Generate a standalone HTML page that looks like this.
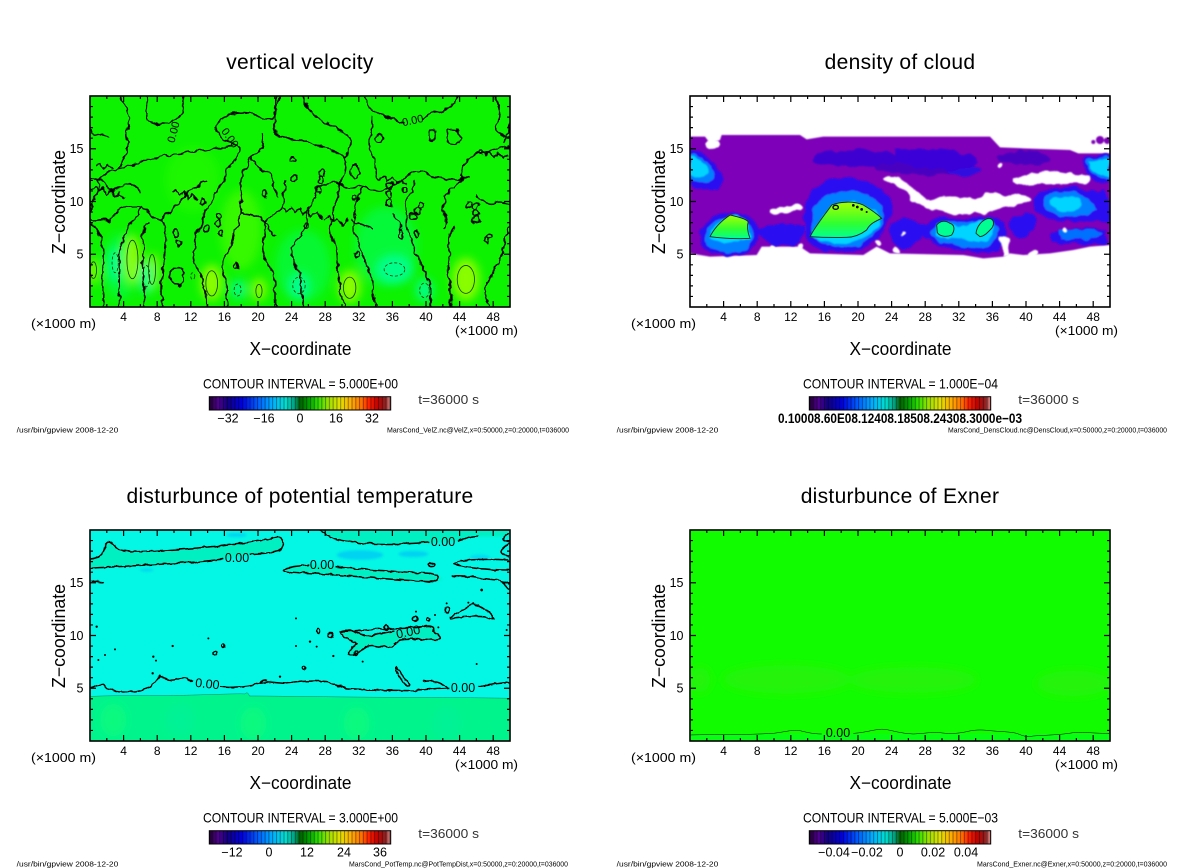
<!DOCTYPE html>
<html><head><meta charset="utf-8"><style>
html,body{margin:0;padding:0;background:#fff;}
svg{display:block;}
text{font-family:"Liberation Sans",sans-serif;fill:#000;}
.ns *{vector-effect:non-scaling-stroke;}
</style></head><body>
<svg width="1200" height="868" viewBox="0 0 1200 868" xmlns="http://www.w3.org/2000/svg">
<defs>
<clipPath id="cTL"><rect x="90" y="96" width="420" height="211"/></clipPath>
<clipPath id="cTR"><rect x="690" y="96" width="420" height="211"/></clipPath>
<clipPath id="cBL"><rect x="90" y="530" width="420" height="211"/></clipPath>
<clipPath id="cBR"><rect x="690" y="530" width="420" height="211"/></clipPath>
<filter id="b1" x="-50%" y="-50%" width="200%" height="200%"><feGaussianBlur stdDeviation="14"/></filter>
<filter id="b2" x="-20%" y="-20%" width="140%" height="140%"><feGaussianBlur stdDeviation="4"/></filter>
<filter id="b3" x="-20%" y="-20%" width="140%" height="140%"><feGaussianBlur stdDeviation="2"/></filter>
<filter id="wig" x="-5%" y="-5%" width="110%" height="110%"><feTurbulence type="fractalNoise" baseFrequency="0.045" numOctaves="2" seed="3" result="n"/><feDisplacementMap in="SourceGraphic" in2="n" scale="18" xChannelSelector="R" yChannelSelector="G"/></filter>
<filter id="wig2" x="-5%" y="-5%" width="110%" height="110%"><feTurbulence type="fractalNoise" baseFrequency="0.05" numOctaves="2" seed="7" result="n"/><feDisplacementMap in="SourceGraphic" in2="n" scale="10" xChannelSelector="R" yChannelSelector="G"/></filter>
<filter id="wig3" x="-10%" y="-10%" width="120%" height="120%"><feTurbulence type="fractalNoise" baseFrequency="0.03" numOctaves="2" seed="5" result="n"/><feDisplacementMap in="SourceGraphic" in2="n" scale="22" xChannelSelector="R" yChannelSelector="G" result="d"/><feGaussianBlur in="d" stdDeviation="2.5"/></filter>
<linearGradient id="cb" x1="0" x2="1" y1="0" y2="0">
<stop offset="0" stop-color="#200030"/><stop offset="0.05" stop-color="#500090"/><stop offset="0.1" stop-color="#120080"/>
<stop offset="0.18" stop-color="#0000e0"/><stop offset="0.27" stop-color="#0060ff"/><stop offset="0.35" stop-color="#00b0ff"/>
<stop offset="0.42" stop-color="#00e0d0"/><stop offset="0.47" stop-color="#00a080"/><stop offset="0.5" stop-color="#006000"/>
<stop offset="0.55" stop-color="#00a000"/><stop offset="0.6" stop-color="#30e000"/><stop offset="0.66" stop-color="#a0e000"/>
<stop offset="0.72" stop-color="#e0e000"/><stop offset="0.78" stop-color="#ffb000"/><stop offset="0.84" stop-color="#ff7000"/>
<stop offset="0.88" stop-color="#ff2000"/><stop offset="0.93" stop-color="#c00000"/><stop offset="0.97" stop-color="#902020"/>
<stop offset="1" stop-color="#e09090"/></linearGradient>
<pattern id="st" patternUnits="userSpaceOnUse" width="3.78" height="20"><rect x="0" y="0" width="1" height="20" fill="#000" fill-opacity="0.4"/></pattern>
<linearGradient id="gc" x1="0" x2="0" y1="0" y2="1"><stop offset="0" stop-color="#a8ff00"/><stop offset="0.6" stop-color="#30ff30"/><stop offset="1" stop-color="#00ff90"/></linearGradient>
<g id="ax">
<rect x="0" y="0" width="420" height="211" fill="none" stroke="#000" stroke-width="1.6"/>
<path fill="none" stroke="#000" stroke-width="1.2" d="M33.6 211v-6M67.2 211v-6M100.8 211v-6M134.4 211v-6M168 211v-6M201.6 211v-6M235.2 211v-6M268.8 211v-6M302.4 211v-6M336 211v-6M369.6 211v-6M403.2 211v-6
M16.8 211v-3M50.4 211v-3M84 211v-3M117.6 211v-3M151.2 211v-3M184.8 211v-3M218.4 211v-3M252 211v-3M285.6 211v-3M319.2 211v-3M352.8 211v-3M386.4 211v-3
M33.6 0v6M67.2 0v6M100.8 0v6M134.4 0v6M168 0v6M201.6 0v6M235.2 0v6M268.8 0v6M302.4 0v6M336 0v6M369.6 0v6M403.2 0v6
M16.8 0v3M50.4 0v3M84 0v3M117.6 0v3M151.2 0v3M184.8 0v3M218.4 0v3M252 0v3M285.6 0v3M319.2 0v3M352.8 0v3M386.4 0v3
M0 200.45h3M0 189.9h3M0 179.35h3M0 168.8h3M0 147.7h3M0 137.15h3M0 126.6h3M0 116.05h3M0 94.95h3M0 84.4h3M0 73.85h3M0 63.3h3M0 42.2h3M0 31.65h3M0 21.1h3M0 10.55h3
M0 158.25h6M0 105.5h6M0 52.75h6
M420 200.45h-3M420 189.9h-3M420 179.35h-3M420 168.8h-3M420 147.7h-3M420 137.15h-3M420 126.6h-3M420 116.05h-3M420 94.95h-3M420 84.4h-3M420 73.85h-3M420 63.3h-3M420 42.2h-3M420 31.65h-3M420 21.1h-3M420 10.55h-3
M420 158.25h-6M420 105.5h-6M420 52.75h-6"/>
</g>
</defs>
<rect width="1200" height="868" fill="#fff"/>

<!-- ===================== TOP LEFT: vertical velocity ===================== -->
<g clip-path="url(#cTL)">
<rect x="90" y="96" width="420" height="211" fill="#0cf200"/>
<g transform="matrix(0.34483,0,0,0.33228,-0.345,80.05)">
<g filter="url(#b1)">
<ellipse cx="700" cy="450" rx="60" ry="120" fill="#60ff00" fill-opacity="0.5"/>
<ellipse cx="560" cy="300" rx="80" ry="100" fill="#40ff00" fill-opacity="0.35"/>
<ellipse cx="1120" cy="500" rx="90" ry="120" fill="#00ff70" fill-opacity="0.5"/>
<ellipse cx="880" cy="560" rx="80" ry="110" fill="#00ff70" fill-opacity="0.45"/>
<ellipse cx="350" cy="560" rx="50" ry="100" fill="#00ff70" fill-opacity="0.45"/>
<ellipse cx="385" cy="540" rx="25" ry="75" fill="#a0ff00" fill-opacity="0.85"/>
<ellipse cx="445" cy="575" rx="18" ry="55" fill="#a0ff00" fill-opacity="0.8"/>
<ellipse cx="615" cy="610" rx="32" ry="55" fill="#a0ff00" fill-opacity="0.85"/>
<ellipse cx="752" cy="630" rx="22" ry="35" fill="#a0ff00" fill-opacity="0.8"/>
<ellipse cx="1015" cy="622" rx="32" ry="50" fill="#a0ff00" fill-opacity="0.85"/>
<ellipse cx="1352" cy="600" rx="40" ry="65" fill="#a0ff00" fill-opacity="0.85"/>
<ellipse cx="272" cy="575" rx="15" ry="40" fill="#a0ff00" fill-opacity="0.8"/>
<ellipse cx="335" cy="555" rx="20" ry="55" fill="#00ff9a" fill-opacity="0.85"/>
<ellipse cx="425" cy="595" rx="20" ry="50" fill="#00ff9a" fill-opacity="0.85"/>
<ellipse cx="692" cy="630" rx="22" ry="30" fill="#00ff9a" fill-opacity="0.85"/>
<ellipse cx="868" cy="620" rx="32" ry="40" fill="#00ff9a" fill-opacity="0.85"/>
<ellipse cx="1145" cy="570" rx="55" ry="45" fill="#00ff9a" fill-opacity="0.85"/>
<ellipse cx="1232" cy="632" rx="25" ry="35" fill="#00ff9a" fill-opacity="0.85"/>
</g>
<g class="ns" fill="none" stroke="#1a3a00" stroke-width="0.8">
<ellipse cx="385" cy="540" rx="16" ry="58"/><ellipse cx="442" cy="570" rx="10" ry="45"/><ellipse cx="615" cy="612" rx="17" ry="38"/>
<ellipse cx="752" cy="635" rx="9" ry="20"/><ellipse cx="1015" cy="625" rx="18" ry="32"/><ellipse cx="1352" cy="600" rx="25" ry="42"/><ellipse cx="272" cy="572" rx="9" ry="25"/>
<g stroke-dasharray="3 2"><ellipse cx="335" cy="550" rx="9" ry="30"/><ellipse cx="425" cy="590" rx="10" ry="32"/><ellipse cx="690" cy="632" rx="10" ry="18"/>
<ellipse cx="868" cy="618" rx="18" ry="25"/><ellipse cx="1145" cy="570" rx="30" ry="20"/><ellipse cx="1232" cy="633" rx="14" ry="22"/><ellipse cx="560" cy="590" rx="6" ry="10"/></g>
</g>
<g class="ns" fill="none" stroke="#000" stroke-width="1.5" stroke-linejoin="round" filter="url(#wig)">
<path d="M352,48 C356,80 385,100 372,140 C360,175 385,200 360,235 C350,255 352,262 345,268 C330,280 310,275 295,290 C280,305 295,330 275,350 C265,365 270,385 262,400"/>
<path d="M430,48 C428,80 418,105 440,128 C465,140 500,128 522,108 C540,90 528,65 532,48"/>
<path d="M345,268 C390,250 420,240 460,232 C500,225 560,214 610,208 C640,205 670,198 690,193 C700,215 690,240 668,258 C650,275 660,300 640,318 C620,335 625,360 605,380 C585,400 598,430 578,450 C565,470 572,500 560,520 C570,560 590,600 598,640 C600,660 598,675 600,683"/>
<path d="M632,130 C650,105 680,98 700,100 C720,95 745,110 770,118 C790,125 800,110 810,48"/>
<path d="M632,130 C620,160 640,185 690,193"/>
<path d="M800,48 C805,90 790,130 800,160 C820,175 860,180 900,190 C940,200 975,215 1000,235 C1010,260 1000,285 990,300 C975,320 990,345 975,365 C960,385 975,410 960,430 C950,455 965,480 975,500 C985,540 975,580 985,620 C990,650 1000,670 1000,683"/>
<path d="M880,48 C885,80 900,100 930,120 C960,140 990,150 1010,170 C1030,190 1005,215 1000,235"/>
<path d="M1060,48 C1065,75 1080,100 1110,105 C1140,110 1160,130 1175,128 M1228,115 C1245,100 1260,97 1275,95 C1300,90 1320,70 1330,48"/>
<path d="M1080,110 C1090,140 1060,180 1080,220 C1100,250 1080,280 1100,300"/>
<path d="M1300,150 C1320,140 1345,160 1335,190 C1315,205 1290,185 1300,150 Z"/>
<path d="M1440,48 C1445,80 1460,100 1440,130 C1425,150 1450,165 1480,170"/>
<path d="M1480,195 C1460,210 1440,200 1420,215 C1400,225 1390,210 1370,230 C1350,250 1330,270 1340,300 C1320,320 1300,330 1290,360 C1280,390 1300,420 1290,450"/>
<path d="M262,420 C280,430 300,410 320,425 C330,400 350,395 365,380 C380,390 400,375 420,390 C440,400 455,430 470,420 C480,440 490,470 480,500 C470,530 480,560 470,600 C465,640 470,660 470,683"/>
<path d="M300,683 C295,650 305,620 300,590 C295,560 310,530 300,500 C295,470 280,440 262,430"/>
<path d="M345,683 C350,650 340,620 345,590 C350,560 340,520 355,490 C365,460 370,440 390,420 C400,405 410,395 412,380"/>
<path d="M420,683 C415,650 425,620 415,590 C408,560 425,520 415,490 C410,470 420,440 430,425"/>
<path d="M660,683 C655,650 665,620 650,590 C640,560 655,530 670,500 C680,470 690,440 700,400 C705,360 690,330 700,300 C710,270 720,250 730,230"/>
<path d="M730,230 C760,215 770,190 760,160 M730,230 C740,260 760,270 780,280 C800,300 790,330 810,350"/>
<path d="M800,683 C795,650 805,610 790,580 C775,550 760,520 765,490 C770,460 760,440 775,420 C790,400 810,405 820,380 C830,350 820,320 830,300"/>
<path d="M880,683 C870,640 880,610 870,580 C860,550 840,530 850,500 C860,480 880,460 890,440 C900,420 880,400 900,380 C920,360 910,330 930,320"/>
<path d="M1090,683 C1085,640 1080,610 1070,580 C1060,550 1055,520 1040,490 C1030,470 1020,450 1030,430 C1040,410 1020,390 1035,370 C1050,350 1040,330 1060,320"/>
<path d="M1250,683 C1245,650 1255,620 1240,590 C1225,560 1210,530 1200,500 C1190,470 1175,450 1180,420 C1185,400 1170,380 1180,360 C1190,340 1210,330 1200,300"/>
<path d="M1310,683 C1305,650 1315,620 1300,590 C1290,560 1310,530 1300,500 C1295,480 1310,460 1320,440"/>
<path d="M1420,683 C1410,650 1400,630 1420,600 C1440,570 1450,540 1460,510 C1470,490 1465,460 1480,440"/>
<path d="M470,420 C490,400 500,380 520,370 C540,360 530,340 550,330 C570,325 580,310 600,300"/>
<path d="M700,400 C720,410 740,400 760,420 C780,440 790,460 800,470"/>
<path d="M930,320 C950,310 980,300 1000,320 C1020,330 1040,320 1060,320 C1080,330 1100,340 1120,330 C1140,320 1160,310 1180,290 C1200,280 1220,270 1240,280 C1260,300 1280,290 1300,300 C1320,305 1340,300 1360,290"/>
<path d="M1380,350 C1400,360 1420,380 1440,370 C1460,360 1470,380 1480,370"/>
<path d="M262,300 C280,290 300,300 310,320 C320,340 340,330 360,320 C380,300 400,320 410,340"/>
<path d="M262,330 L275,320 L285,335 L300,325 L310,345 L325,330 L335,350 L350,340 L360,360"/>
<path d="M500,340 L510,330 L520,345 L535,335 L545,355 L560,345 L575,360"/>
<path d="M820,380 L830,395 L845,380 L855,400 L870,385 L880,405 L895,390 L905,410 L920,395 L935,420"/>
<path d="M940,420 L955,405 L965,430 L980,415 L995,440 L1010,420"/>
<path d="M1100,300 L1115,290 L1125,305 L1140,295 L1150,310 L1165,300 L1180,315"/>
<path d="M1380,220 L1395,210 L1405,225 L1420,215 L1430,230 L1445,220 L1460,235 L1475,225"/>
<path d="M275,260 L290,250 L300,265 L315,255 L330,270"/>
<path d="M1480,130 C1470,150 1475,170 1460,190 M262,150 C280,170 300,160 320,175"/>
<path d="M1020,420 C1040,440 1060,430 1080,450 M1140,400 C1150,420 1170,430 1160,450"/>
<ellipse cx="510" cy="460" rx="10" ry="12"/><ellipse cx="520" cy="490" rx="8" ry="10"/><ellipse cx="590" cy="370" rx="7" ry="10"/>
<ellipse cx="600" cy="445" rx="7" ry="10"/><ellipse cx="635" cy="410" rx="7" ry="9"/><ellipse cx="635" cy="432" rx="7" ry="9"/>
<ellipse cx="850" cy="240" rx="10" ry="6"/><ellipse cx="855" cy="295" rx="7" ry="10"/><ellipse cx="935" cy="280" rx="8" ry="10"/>
<ellipse cx="930" cy="302" rx="8" ry="10"/><ellipse cx="925" cy="330" rx="8" ry="10"/><ellipse cx="1030" cy="275" rx="12" ry="20"/>
<ellipse cx="1130" cy="320" rx="9" ry="10"/><ellipse cx="1130" cy="345" rx="9" ry="10"/><ellipse cx="1130" cy="370" rx="9" ry="10"/>
<ellipse cx="1200" cy="410" rx="10" ry="9"/><ellipse cx="1212" cy="392" rx="10" ry="9"/><ellipse cx="1222" cy="378" rx="10" ry="9"/>
<ellipse cx="1382" cy="380" rx="10" ry="9"/><ellipse cx="1382" cy="400" rx="10" ry="9"/><ellipse cx="1382" cy="420" rx="10" ry="9"/>
<ellipse cx="1100" cy="175" rx="12" ry="12"/><ellipse cx="1255" cy="165" rx="12" ry="15"/><ellipse cx="1165" cy="465" rx="6" ry="15"/>
<ellipse cx="1210" cy="465" rx="6" ry="12"/><ellipse cx="1360" cy="375" rx="8" ry="8"/><ellipse cx="515" cy="590" rx="20" ry="28"/>
<ellipse cx="685" cy="560" rx="5" ry="8"/><ellipse cx="1035" cy="525" rx="6" ry="8"/><ellipse cx="1410" cy="480" rx="6" ry="8"/>
<ellipse cx="890" cy="440" rx="7" ry="9"/><ellipse cx="770" cy="345" rx="8" ry="10"/><ellipse cx="640" cy="460" rx="6" ry="8"/>
<ellipse cx="1175" cy="330" rx="7" ry="9"/><ellipse cx="1030" cy="355" rx="7" ry="8"/><ellipse cx="1420" cy="470" rx="8" ry="6"/>
</g>
</g>
<text x="177" y="133" font-size="11" transform="rotate(-75 177 133)" text-anchor="middle">0.00</text>
<text x="227" y="140" font-size="11" transform="rotate(55 227 140)" text-anchor="middle">0.00</text>
<text x="413.5" y="124" font-size="11" transform="rotate(-12 413.5 124)" text-anchor="middle">0.00</text>
</g>
<use href="#ax" x="90" y="96"/>

<!-- ===================== TOP RIGHT: density of cloud ===================== -->
<g clip-path="url(#cTR)">
<rect x="690" y="96" width="420" height="211" fill="#fff"/>
<g transform="translate(690,90) scale(0.33333)">
<g filter="url(#b3)">
<path fill="#7e00b8" d="M0,140 L45,140 L60,160 L90,150 L95,135 L330,135 L350,148 L400,140 L900,140 L930,172 L1000,175 L1140,180 L1165,190 L1260,190 L1260,465 L1200,470 L1150,480 L1080,490 L1000,495 L960,490 L940,500 L880,505 L820,495 L600,490 L560,470 L520,495 L360,490 L330,470 L215,470 L200,495 L60,500 L30,495 L0,490 Z"/>
<circle cx="1230" cy="150" r="12" fill="#7e00b8"/><circle cx="1252" cy="152" r="10" fill="#7e00b8"/><circle cx="1210" cy="156" r="6" fill="#7e00b8"/>
</g>
<g filter="url(#wig3)">
<ellipse cx="700" cy="225" rx="150" ry="30" fill="#4a00c0"/>
<ellipse cx="1000" cy="205" rx="80" ry="20" fill="#4a00c0"/>
<ellipse cx="500" cy="205" rx="130" ry="25" fill="#3c00d0"/>
<ellipse cx="820" cy="240" rx="50" ry="18" fill="#3010e0"/>
<path fill="#3a00d8" d="M620,180 C700,175 780,180 860,200 C880,215 860,235 800,240 C720,240 650,230 620,210 Z"/>
<path fill="#2a10f0" d="M200,420 C240,400 300,395 340,410 C350,440 330,465 290,468 C250,470 215,455 200,420 Z"/>
<path fill="#2a10f0" d="M600,400 C630,380 680,385 700,410 C700,440 680,470 640,475 C610,470 595,440 600,400 Z"/>
<path fill="#2a10f0" d="M0,180 C40,185 70,210 90,240 C110,265 100,290 70,300 C40,305 20,290 0,285 Z"/>
<path fill="#2a10f0" d="M350,330 C360,290 400,265 460,262 C520,265 570,290 600,320 C620,350 600,390 580,420 C560,450 530,480 480,488 C430,490 380,480 355,455 C340,420 340,370 350,330 Z"/>
<path fill="#2a10f0" d="M30,430 C40,390 80,370 130,368 C180,372 210,400 205,440 C200,470 180,490 140,495 C90,497 50,490 35,470 Z"/>
<path fill="#2a10f0" d="M690,410 C720,385 770,375 820,390 C860,375 910,370 940,400 C955,430 945,470 910,485 C860,490 800,480 740,465 C700,450 685,430 690,410 Z"/>
<path fill="#2a10f0" d="M1030,330 C1050,300 1100,285 1160,292 C1200,300 1220,310 1240,300 C1260,305 1260,390 1260,395 C1220,390 1180,395 1140,395 C1090,395 1050,380 1035,360 Z"/>
<path fill="#2a10f0" d="M1180,205 C1200,195 1240,192 1260,198 L1260,275 C1230,280 1200,270 1185,245 Z"/>
<path fill="#2a10f0" d="M960,400 C980,370 1020,360 1040,390 C1045,420 1020,445 985,440 C965,430 958,415 960,400 Z"/>
<path fill="#2a10f0" d="M1080,430 C1120,410 1200,415 1250,420 L1250,460 C1200,465 1120,460 1085,455 Z"/>
<path fill="#0080ff" d="M0,195 C30,195 55,215 70,245 C80,270 60,285 30,280 C15,275 5,265 0,260 Z"/>
<path fill="#0080ff" d="M370,360 C390,320 440,300 500,305 C550,315 580,345 585,380 C575,420 540,455 500,470 C450,478 400,470 375,445 C365,420 365,390 370,360 Z"/>
<path fill="#0080ff" d="M45,435 C55,400 90,385 130,383 C170,388 195,410 190,445 C185,470 160,485 120,487 C80,487 55,475 45,455 Z"/>
<path fill="#0080ff" d="M720,420 C740,395 780,385 820,400 C860,390 900,385 925,410 C930,440 915,465 880,475 C840,475 790,465 750,455 C725,445 715,435 720,420 Z"/>
<path fill="#0080ff" d="M1060,330 C1080,305 1120,300 1160,310 C1190,320 1210,340 1220,360 C1200,380 1150,385 1110,380 C1080,370 1060,355 1060,330 Z"/>
<path fill="#0080ff" d="M1190,210 C1210,200 1240,200 1258,205 L1258,265 C1230,268 1205,255 1195,235 Z"/>
<path fill="#0070ff" d="M1100,420 C1140,415 1200,420 1240,428 C1230,448 1150,450 1110,445 Z"/>
<path fill="#00d4ff" d="M0,200 C20,200 40,215 50,235 C55,255 40,262 20,258 L0,250 Z"/>
<path fill="#00d4ff" d="M365,440 C380,400 420,345 480,333 C530,340 570,370 575,390 C560,420 530,450 480,460 C430,462 385,455 365,440 Z"/>
<path fill="#00d4ff" d="M55,445 C70,410 100,380 140,378 C175,390 185,420 180,450 C150,460 100,460 55,445 Z"/>
<path fill="#00d4ff" d="M735,410 C750,395 780,395 800,410 C820,420 840,400 870,390 C900,385 915,400 910,430 C900,450 880,460 860,455 C820,450 770,448 740,440 Z"/>
<path fill="#00d4ff" d="M1200,215 C1220,205 1245,205 1258,210 L1258,258 C1235,260 1210,250 1200,235 Z"/>
<path fill="#00d4ff" d="M1080,330 C1100,315 1140,315 1170,330 C1180,345 1160,365 1120,365 C1090,360 1075,345 1080,330 Z"/>
</g>
<g filter="url(#b3)">
<path fill="url(#gc)" d="M60,440 C70,420 90,395 120,375 C140,380 165,385 175,395 C170,410 172,425 180,445 C150,447 100,445 60,440 Z"/>
<path fill="url(#gc)" d="M360,440 C375,410 400,380 425,345 C450,335 490,332 520,345 C545,360 565,375 575,385 C555,395 540,400 530,420 C510,435 490,442 470,442 C430,443 390,442 360,440 Z"/>
<path fill="#00ff90" d="M740,405 C750,392 765,390 780,400 C795,405 795,420 785,435 C770,442 750,440 742,428 Z"/>
<path fill="#00ff90" d="M858,430 C860,410 875,390 895,385 C912,385 915,400 905,415 C895,425 885,438 870,440 Z"/>
</g>
<g class="ns" fill="none" stroke="#062a20" stroke-width="0.9">
<path d="M60,440 C70,420 90,395 120,375 C140,380 165,385 175,395 C170,410 172,425 180,445 C150,447 100,445 60,440 Z"/>
<path d="M360,440 C375,410 400,380 425,345 C450,335 490,332 520,345 C545,360 565,375 575,385 C555,395 540,400 530,420 C510,435 490,442 470,442 C430,443 390,442 360,440 Z"/>
<path d="M740,405 C750,392 765,390 780,400 C795,405 795,420 785,435 C770,442 750,440 742,428 Z"/>
<path d="M858,430 C860,410 875,390 895,385 C912,385 915,400 905,415 C895,425 885,438 870,440 Z"/>
</g>
<g class="ns" fill="none" stroke="#000" stroke-width="1.4"><ellipse cx="437" cy="352" rx="8" ry="6"/></g>
<g fill="#000"><circle cx="490" cy="346" r="4"/><circle cx="502" cy="351" r="4"/><circle cx="515" cy="358" r="4"/><circle cx="530" cy="366" r="3"/></g>
<g fill="#fff" filter="url(#wig3)">
<path d="M580,265 C600,255 620,260 640,270 C660,285 670,300 700,320 C720,335 760,320 800,322 C840,325 870,330 890,310 C905,300 930,310 950,320 C975,310 1000,305 1020,320 C1030,335 1000,340 970,345 C930,355 900,368 860,370 C820,372 780,372 740,362 C700,352 670,345 660,330 C650,310 640,295 620,285 C600,280 585,275 580,265 Z"/>
<path d="M970,262 C1000,255 1040,250 1060,240 C1080,235 1100,245 1130,250 C1160,255 1190,255 1200,262 C1205,272 1195,280 1170,280 C1130,280 1080,282 1040,285 C1010,288 980,290 970,280 Z"/>
<path d="M240,360 C270,350 300,345 330,345 C345,350 340,362 320,365 C290,370 260,372 240,368 Z"/>
<ellipse cx="68" cy="163" rx="22" ry="14"/>
<circle cx="928" cy="225" r="8"/><circle cx="565" cy="458" r="10"/><circle cx="640" cy="432" r="6"/><circle cx="1125" cy="420" r="8"/>
<path d="M930,440 L955,445 L960,495 L940,498 Z"/>
<circle cx="250" cy="472" r="10"/><circle cx="330" cy="468" r="8"/><circle cx="620" cy="482" r="8"/><circle cx="1030" cy="490" r="10"/>
</g>
</g>
</g>
<use href="#ax" x="690" y="96"/>

<!-- ===================== BOTTOM LEFT: potential temperature ===================== -->
<g clip-path="url(#cBL)">
<rect x="90" y="530" width="420" height="211" fill="#04f6e4"/>
<g transform="translate(80,520) scale(0.33333)">
<g filter="url(#b2)">
<path fill="#00f0c2" d="M30,117 C60,115 70,100 80,70 C85,60 95,65 110,85 C130,100 200,95 300,88 C400,80 500,72 590,52 C610,48 615,70 600,92 C580,100 540,100 510,103 C470,110 430,117 380,125 C300,130 200,135 120,140 C60,142 30,145 30,145 Z"/>
<path fill="#00f0c2" d="M720,30 C740,50 780,65 850,70 C950,75 1050,68 1130,62 C1160,55 1180,45 1195,50 L1288,50 L1288,30 Z"/>
<path fill="#00f0c2" d="M610,150 C620,140 660,138 690,135 C765,140 850,150 950,155 C1050,160 1080,165 1085,180 C1050,185 950,180 850,170 C700,160 640,158 610,150 Z"/>
<path fill="#00f0c2" d="M780,335 C800,325 830,335 850,345 C880,345 900,340 960,330 C1030,320 1050,315 1070,320 C1060,335 1090,355 1070,360 C1040,358 1000,355 960,360 C930,370 950,390 920,380 C890,385 880,370 860,380 C840,390 830,410 810,405 C800,395 820,380 830,370 C810,360 790,350 780,335 Z"/>
<ellipse cx="840" cy="105" rx="70" ry="14" fill="#00d2f2"/>
<ellipse cx="1000" cy="102" rx="45" ry="9" fill="#00d2f2"/>
<ellipse cx="470" cy="45" rx="30" ry="6" fill="#00d2f2"/>
<ellipse cx="200" cy="150" rx="20" ry="4" fill="#00d2f2"/>
<ellipse cx="1200" cy="112" rx="30" ry="8" fill="#00dcf2"/>
</g>
<path fill="#00f48c" d="M20,530 C100,525 200,528 300,526 C400,524 480,520 495,522 C500,516 505,518 508,528 C600,528 800,532 1000,532 C1200,533 1300,535 1300,535 L1300,680 L20,680 Z"/>
<g filter="url(#b1)">
<ellipse cx="100" cy="600" rx="40" ry="50" fill="#10ff70" fill-opacity="0.5"/>
<ellipse cx="520" cy="610" rx="40" ry="50" fill="#10ff70" fill-opacity="0.5"/>
<ellipse cx="830" cy="610" rx="40" ry="50" fill="#10ff70" fill-opacity="0.5"/>
<ellipse cx="300" cy="600" rx="40" ry="50" fill="#00f0a0" fill-opacity="0.5"/>
<ellipse cx="1100" cy="610" rx="40" ry="50" fill="#00f0a0" fill-opacity="0.5"/>
</g>
<path class="ns" fill="none" stroke="#0a3a30" stroke-width="0.9" d="M20,530 C100,525 200,528 300,526 C400,524 480,520 495,522 C500,516 505,518 508,528 C600,528 800,532 1000,532 C1200,533 1300,535 1300,535"/>
<g class="ns" fill="none" stroke="#000" stroke-width="1.5" stroke-linejoin="round" filter="url(#wig2)">
<path d="M30,117 C60,115 70,100 80,70 C85,60 95,65 110,85 C130,100 200,95 300,88 C400,80 500,72 590,52 C610,48 615,70 600,92 C580,100 540,100 510,103 M430,117 C380,125 300,130 200,135 C120,140 60,142 30,145"/>
<path d="M720,30 C740,50 780,65 850,70 C950,75 1000,70 1048,67 M1132,62 C1160,55 1180,45 1195,50"/>
<path d="M1288,70 C1260,90 1250,100 1288,110 M1288,120 C1200,115 1140,120 1120,130 C1140,140 1200,150 1288,150"/>
<path d="M610,150 C620,140 660,138 688,135 M765,140 C850,150 950,155 1050,160 C1080,165 1085,180 1050,185 C950,180 850,170 700,160 C640,158 610,155 610,150"/>
<path d="M1115,170 C1150,165 1200,175 1250,180 C1280,185 1288,190 1288,195 M1270,185 C1275,195 1280,205 1288,210"/>
<path d="M780,335 C800,325 830,335 850,345 C870,350 880,345 900,340 C915,338 930,336 945,333 M1030,320 C1050,315 1070,320 1060,335 C1080,345 1090,355 1070,360 C1040,358 1000,355 960,360 C930,370 950,390 920,380 C890,385 880,370 860,380 C840,390 830,410 810,405 C800,395 820,380 830,370 C810,360 790,350 780,335 Z"/>
<path d="M1110,290 C1140,275 1160,265 1180,250 C1200,260 1220,270 1230,280 C1240,290 1245,300 1240,295 C1200,285 1150,290 1110,295 Z"/>
<path d="M950,440 C960,455 970,470 990,495 C985,502 975,498 965,480 C955,465 948,455 950,440 Z"/>
<path d="M30,505 C40,500 60,490 70,495 C80,510 100,515 150,515 C200,515 230,490 240,465 C250,470 260,490 300,475 C320,470 330,480 340,485 M420,500 C450,505 500,500 540,490 C560,480 580,490 620,490 C660,485 700,480 740,485 C760,490 780,500 800,505 C850,510 900,510 1000,512 C1050,510 1080,505 1108,505 M1195,500 C1230,495 1260,488 1288,488"/>
<path d="M1030,485 C1050,480 1070,482 1090,495 C1100,500 1105,505 1100,505"/>
<path d="M1288,40 C1270,50 1260,60 1288,65"/>
<path d="M540,490 C545,480 555,475 560,482 M35,185 C45,180 60,185 70,190"/>
<ellipse cx="1055" cy="135" rx="10" ry="5"/><ellipse cx="1005" cy="297" rx="8" ry="7"/><ellipse cx="918" cy="322" rx="5" ry="8"/>
<ellipse cx="715" cy="332" rx="5" ry="7"/><ellipse cx="752" cy="345" rx="8" ry="6"/><ellipse cx="672" cy="445" rx="5" ry="6"/>
<ellipse cx="430" cy="378" rx="5" ry="6"/><ellipse cx="405" cy="400" rx="6" ry="6"/><ellipse cx="828" cy="400" rx="5" ry="8"/>
<ellipse cx="1100" cy="270" rx="6" ry="8"/><ellipse cx="1045" cy="297" rx="5" ry="6"/>
</g>
<g fill="#000">
<circle cx="50" cy="320" r="3.5"/><circle cx="55" cy="420" r="3"/><circle cx="75" cy="405" r="3"/><circle cx="105" cy="388" r="3"/>
<circle cx="220" cy="410" r="3.5"/><circle cx="228" cy="422" r="3"/><circle cx="278" cy="378" r="3.5"/><circle cx="385" cy="355" r="3"/>
<circle cx="648" cy="295" r="3"/><circle cx="690" cy="365" r="3.5"/><circle cx="710" cy="380" r="3"/><circle cx="760" cy="408" r="3.5"/>
<circle cx="848" cy="425" r="3"/><circle cx="600" cy="470" r="3.5"/><circle cx="1205" cy="210" r="4"/><circle cx="1190" cy="432" r="3"/>
<circle cx="1280" cy="330" r="3"/><circle cx="218" cy="460" r="3.5"/><circle cx="1008" cy="275" r="3"/><circle cx="1100" cy="250" r="3"/>
<circle cx="1065" cy="285" r="3"/><circle cx="1165" cy="248" r="3"/><circle cx="1075" cy="322" r="3"/><circle cx="648" cy="378" r="3"/>
</g>
</g>
<text x="237" y="562" font-size="12.5" text-anchor="middle">0.00</text>
<text x="322" y="569" font-size="12.5" text-anchor="middle">0.00</text>
<text x="443" y="546" font-size="12.5" text-anchor="middle">0.00</text>
<text x="409" y="636" font-size="12.5" text-anchor="middle" transform="rotate(-12 409 636)">0.00</text>
<text x="207" y="688" font-size="12.5" text-anchor="middle" transform="rotate(6 207 688)">0.00</text>
<text x="463" y="692" font-size="12.5" text-anchor="middle">0.00</text>
</g>
<use href="#ax" x="90" y="530"/>

<!-- ===================== BOTTOM RIGHT: Exner ===================== -->
<g clip-path="url(#cBR)">
<rect x="690" y="530" width="420" height="211" fill="#12fc00"/>
<g transform="translate(680,520) scale(0.33333)">
<g filter="url(#b1)">
<ellipse cx="320" cy="478" rx="190" ry="42" fill="#2cf00e" fill-opacity="0.8"/>
<ellipse cx="700" cy="480" rx="190" ry="38" fill="#2cf00e" fill-opacity="0.8"/>
<ellipse cx="1180" cy="490" rx="110" ry="38" fill="#2cf00e" fill-opacity="0.8"/>
<ellipse cx="60" cy="480" rx="30" ry="38" fill="#2cf00e" fill-opacity="0.8"/>
</g>
<rect x="20" y="642" width="1280" height="30" fill="#08ff14"/>
<path class="ns" fill="none" stroke="#000" stroke-width="1.5" d="M30,645 C100,643 200,645 280,640 C320,635 340,628 360,632 C380,637 400,642 425,642 M520,640 C560,638 590,625 615,628 C640,632 660,640 700,642 C740,640 760,635 780,638 C800,641 830,642 860,635 C880,630 900,628 930,632 C960,635 990,635 1010,640 C1030,648 1040,652 1060,648 C1100,645 1140,645 1180,638 C1210,635 1230,640 1288,640"/>
</g>
<text x="838" y="737" font-size="12.5" text-anchor="middle">0.00</text>
</g>
<use href="#ax" x="690" y="530"/>

<!-- ===================== TEXT: TOP LEFT ===================== -->
<text x="300" y="69" font-size="21" letter-spacing="0.3" text-anchor="middle">vertical velocity</text>
<text transform="translate(65,202) rotate(-90)" font-size="18" text-anchor="middle" textLength="104" lengthAdjust="spacingAndGlyphs">Z−coordinate</text>
<g font-size="12.5" text-anchor="end"><text x="83.5" y="153.2">15</text><text x="83.5" y="206">10</text><text x="83.5" y="258.7">5</text></g>
<g font-size="12" text-anchor="middle">
<text x="123.6" y="321">4</text><text x="157.2" y="321">8</text><text x="190.8" y="321">12</text><text x="224.4" y="321">16</text>
<text x="258" y="321">20</text><text x="291.6" y="321">24</text><text x="325.2" y="321">28</text><text x="358.8" y="321">32</text>
<text x="392.4" y="321">36</text><text x="426" y="321">40</text><text x="459.6" y="321">44</text><text x="493.2" y="321">48</text>
</g>
<text x="31" y="328" font-size="12.5" textLength="65" lengthAdjust="spacingAndGlyphs">(×1000 m)</text>
<text x="455" y="335" font-size="12.5" textLength="63" lengthAdjust="spacingAndGlyphs">(×1000 m)</text>
<text x="300.5" y="355" font-size="18" text-anchor="middle" textLength="102" lengthAdjust="spacingAndGlyphs">X−coordinate</text>
<text x="300.5" y="388.3" font-size="14" text-anchor="middle" textLength="195" lengthAdjust="spacingAndGlyphs">CONTOUR INTERVAL = 5.000E+00</text>
<rect x="209.3" y="396.7" width="181.4" height="13.3" fill="url(#cb)"/>
<rect x="209.3" y="396.7" width="181.4" height="13.3" fill="url(#st)" stroke="#000" stroke-width="1"/>
<g font-size="12.5" text-anchor="middle"><text x="228" y="422.7">−32</text><text x="264" y="422.7">−16</text><text x="300" y="422.7">0</text><text x="336" y="422.7">16</text><text x="372" y="422.7">32</text></g>
<text x="418.3" y="404" font-size="13" style="fill:#333" textLength="60.7" lengthAdjust="spacingAndGlyphs">t=36000 s</text>
<text x="16.7" y="432.5" font-size="7.5" textLength="101.6" lengthAdjust="spacingAndGlyphs">/usr/bin/gpview  2008-12-20</text>
<text x="569" y="432.5" font-size="7.5" text-anchor="end" textLength="182" lengthAdjust="spacingAndGlyphs">MarsCond_VelZ.nc@VelZ,x=0:50000,z=0:20000,t=036000</text>

<!-- ===================== TEXT: TOP RIGHT ===================== -->
<text x="900" y="69" font-size="21" letter-spacing="0.3" text-anchor="middle">density of cloud</text>
<text transform="translate(665,202) rotate(-90)" font-size="18" text-anchor="middle" textLength="104" lengthAdjust="spacingAndGlyphs">Z−coordinate</text>
<g font-size="12.5" text-anchor="end"><text x="683.5" y="153.2">15</text><text x="683.5" y="206">10</text><text x="683.5" y="258.7">5</text></g>
<g font-size="12" text-anchor="middle">
<text x="723.6" y="321">4</text><text x="757.2" y="321">8</text><text x="790.8" y="321">12</text><text x="824.4" y="321">16</text>
<text x="858" y="321">20</text><text x="891.6" y="321">24</text><text x="925.2" y="321">28</text><text x="958.8" y="321">32</text>
<text x="992.4" y="321">36</text><text x="1026" y="321">40</text><text x="1059.6" y="321">44</text><text x="1093.2" y="321">48</text>
</g>
<text x="631" y="328" font-size="12.5" textLength="65" lengthAdjust="spacingAndGlyphs">(×1000 m)</text>
<text x="1055" y="335" font-size="12.5" textLength="63" lengthAdjust="spacingAndGlyphs">(×1000 m)</text>
<text x="900.5" y="355" font-size="18" text-anchor="middle" textLength="102" lengthAdjust="spacingAndGlyphs">X−coordinate</text>
<text x="900.5" y="388.3" font-size="14" text-anchor="middle" textLength="195" lengthAdjust="spacingAndGlyphs">CONTOUR INTERVAL = 1.000E−04</text>
<rect x="809.3" y="396.7" width="181.4" height="13.3" fill="url(#cb)"/>
<rect x="809.3" y="396.7" width="181.4" height="13.3" fill="url(#st)" stroke="#000" stroke-width="1"/>
<text x="778" y="423" font-size="13.5" font-weight="bold" textLength="244" lengthAdjust="spacingAndGlyphs">0.10008.60E08.12408.18508.24308.3000e−03</text>
<text x="1018.3" y="404" font-size="13" style="fill:#333" textLength="60.7" lengthAdjust="spacingAndGlyphs">t=36000 s</text>
<text x="616.7" y="432.5" font-size="7.5" textLength="101.6" lengthAdjust="spacingAndGlyphs">/usr/bin/gpview  2008-12-20</text>
<text x="1167" y="432.5" font-size="7.5" text-anchor="end" textLength="219" lengthAdjust="spacingAndGlyphs">MarsCond_DensCloud.nc@DensCloud,x=0:50000,z=0:20000,t=036000</text>

<!-- ===================== TEXT: BOTTOM LEFT ===================== -->
<text x="300" y="503" font-size="21" letter-spacing="0.3" text-anchor="middle">disturbunce of potential temperature</text>
<text transform="translate(65,636) rotate(-90)" font-size="18" text-anchor="middle" textLength="104" lengthAdjust="spacingAndGlyphs">Z−coordinate</text>
<g font-size="12.5" text-anchor="end"><text x="83.5" y="587.2">15</text><text x="83.5" y="640">10</text><text x="83.5" y="692.7">5</text></g>
<g font-size="12" text-anchor="middle">
<text x="123.6" y="755">4</text><text x="157.2" y="755">8</text><text x="190.8" y="755">12</text><text x="224.4" y="755">16</text>
<text x="258" y="755">20</text><text x="291.6" y="755">24</text><text x="325.2" y="755">28</text><text x="358.8" y="755">32</text>
<text x="392.4" y="755">36</text><text x="426" y="755">40</text><text x="459.6" y="755">44</text><text x="493.2" y="755">48</text>
</g>
<text x="31" y="762" font-size="12.5" textLength="65" lengthAdjust="spacingAndGlyphs">(×1000 m)</text>
<text x="455" y="769" font-size="12.5" textLength="63" lengthAdjust="spacingAndGlyphs">(×1000 m)</text>
<text x="300.5" y="789" font-size="18" text-anchor="middle" textLength="102" lengthAdjust="spacingAndGlyphs">X−coordinate</text>
<text x="300.5" y="822.3" font-size="14" text-anchor="middle" textLength="195" lengthAdjust="spacingAndGlyphs">CONTOUR INTERVAL = 3.000E+00</text>
<rect x="209.3" y="830.7" width="181.4" height="13.3" fill="url(#cb)"/>
<rect x="209.3" y="830.7" width="181.4" height="13.3" fill="url(#st)" stroke="#000" stroke-width="1"/>
<g font-size="12.5" text-anchor="middle"><text x="232" y="856.7">−12</text><text x="269" y="856.7">0</text><text x="307" y="856.7">12</text><text x="344" y="856.7">24</text><text x="380" y="856.7">36</text></g>
<text x="418.3" y="838" font-size="13" style="fill:#333" textLength="60.7" lengthAdjust="spacingAndGlyphs">t=36000 s</text>
<text x="16.7" y="866.5" font-size="7.5" textLength="101.6" lengthAdjust="spacingAndGlyphs">/usr/bin/gpview  2008-12-20</text>
<text x="568" y="866.5" font-size="7.5" text-anchor="end" textLength="219" lengthAdjust="spacingAndGlyphs">MarsCond_PotTemp.nc@PotTempDist,x=0:50000,z=0:20000,t=036000</text>

<!-- ===================== TEXT: BOTTOM RIGHT ===================== -->
<text x="900" y="503" font-size="21" letter-spacing="0.3" text-anchor="middle">disturbunce of Exner</text>
<text transform="translate(665,636) rotate(-90)" font-size="18" text-anchor="middle" textLength="104" lengthAdjust="spacingAndGlyphs">Z−coordinate</text>
<g font-size="12.5" text-anchor="end"><text x="683.5" y="587.2">15</text><text x="683.5" y="640">10</text><text x="683.5" y="692.7">5</text></g>
<g font-size="12" text-anchor="middle">
<text x="723.6" y="755">4</text><text x="757.2" y="755">8</text><text x="790.8" y="755">12</text><text x="824.4" y="755">16</text>
<text x="858" y="755">20</text><text x="891.6" y="755">24</text><text x="925.2" y="755">28</text><text x="958.8" y="755">32</text>
<text x="992.4" y="755">36</text><text x="1026" y="755">40</text><text x="1059.6" y="755">44</text><text x="1093.2" y="755">48</text>
</g>
<text x="631" y="762" font-size="12.5" textLength="65" lengthAdjust="spacingAndGlyphs">(×1000 m)</text>
<text x="1055" y="769" font-size="12.5" textLength="63" lengthAdjust="spacingAndGlyphs">(×1000 m)</text>
<text x="900.5" y="789" font-size="18" text-anchor="middle" textLength="102" lengthAdjust="spacingAndGlyphs">X−coordinate</text>
<text x="900.5" y="822.3" font-size="14" text-anchor="middle" textLength="195" lengthAdjust="spacingAndGlyphs">CONTOUR INTERVAL = 5.000E−03</text>
<rect x="809.3" y="830.7" width="181.4" height="13.3" fill="url(#cb)"/>
<rect x="809.3" y="830.7" width="181.4" height="13.3" fill="url(#st)" stroke="#000" stroke-width="1"/>
<g font-size="12.5" text-anchor="middle"><text x="834" y="856.7">−0.04</text><text x="867" y="856.7">−0.02</text><text x="900" y="856.7">0</text><text x="933" y="856.7">0.02</text><text x="966" y="856.7">0.04</text></g>
<text x="1018.3" y="838" font-size="13" style="fill:#333" textLength="60.7" lengthAdjust="spacingAndGlyphs">t=36000 s</text>
<text x="616.7" y="866.5" font-size="7.5" textLength="101.6" lengthAdjust="spacingAndGlyphs">/usr/bin/gpview  2008-12-20</text>
<text x="1167" y="866.5" font-size="7.5" text-anchor="end" textLength="190" lengthAdjust="spacingAndGlyphs">MarsCond_Exner.nc@Exner,x=0:50000,z=0:20000,t=036000</text>
</svg>
</body></html>
